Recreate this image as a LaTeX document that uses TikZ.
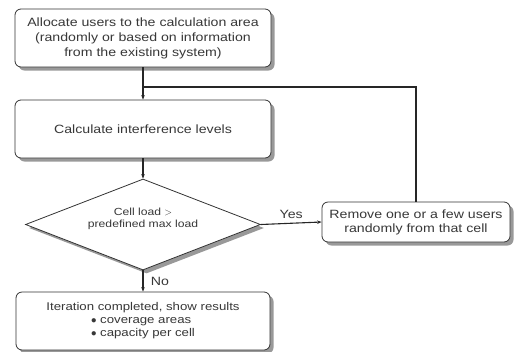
\documentclass[tikz,border=0pt]{standalone}
\usepackage{fontspec}
\setmainfont{Liberation Sans}[FakeStretch=1.18]
\usetikzlibrary{shapes.geometric,shadows,arrows.meta}
\begin{document}
\begin{tikzpicture}[x=1pt,y=-1pt,
  txt/.style={text=black!78},
  procbox/.style={draw=black!80, line width=0.8pt, fill=white, rounded corners=6pt,
     align=center, inner sep=0pt, txt,
     drop shadow={shadow xshift=3.5pt, shadow yshift=-3.5pt, fill=black!40, opacity=1}},
  decbox/.style={draw=black!80, line width=0.8pt, fill=white, diamond, aspect=2.58,
     inner sep=0pt, align=center, txt,
     drop shadow={shadow xshift=3.5pt, shadow yshift=-3.5pt, fill=black!40, opacity=1}},
  conn/.style={draw=black!85, line width=1.1pt},
  arr/.style={conn, -{Stealth[length=4.5pt,width=3.5pt]}},
  lbl/.style={txt, font=\fontsize{12}{14}\selectfont}]
\useasboundingbox (0,0) rectangle (518,351);

\node[procbox, minimum width=256pt, minimum height=58pt,
  font=\fontsize{12}{15}\selectfont] (alloc) at (143,38)
  {Allocate users to the calculation area\\(randomly or based on information\\from the existing system)};

\node[procbox, minimum width=256pt, minimum height=58pt,
  font=\fontsize{12}{15}\selectfont] (calc) at (143,129)
  {Calculate interference levels};

\node[decbox, minimum width=235pt, minimum height=91pt,
  font=\fontsize{10.3}{12}\selectfont] (dec) at (143,224.5)
  {Cell load $>$\\predefined max load\\[2pt]};

\node[procbox, minimum width=188pt, minimum height=40pt,
  font=\fontsize{12}{14}\selectfont] (rem) at (416,222)
  {Remove one or a few users\\randomly from that cell};

\node[procbox, minimum width=254pt, minimum height=58pt,
  font=\fontsize{11.2}{13}\selectfont] (res) at (143,321)
  {Iteration completed, show results\\
   \rlap{$\bullet$ coverage areas}\phantom{$\bullet$ capacity per cell}\\
   $\bullet$ capacity per cell};

\coordinate (j) at (143,87);

\draw[arr] (alloc.south) -- (calc.north);
\draw[conn] (rem.north) -- (rem.north |- j) -- (j);
\draw[arr] (calc.south) -- (dec.north);
\draw[arr] (dec.east) -- node[lbl, above=1pt] {Yes} (rem.west);
\draw[arr] (dec.south) -- node[lbl, right=4pt] {No} (res.north);
\end{tikzpicture}
\end{document}
